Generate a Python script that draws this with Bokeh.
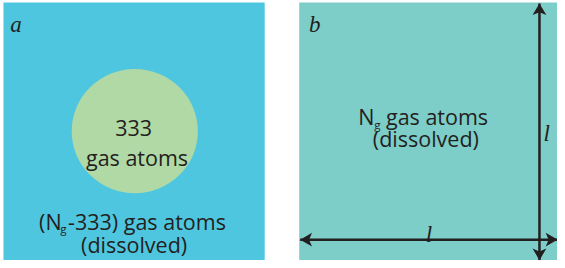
from bokeh.plotting import figure
from bokeh.models import Range1d
from bokeh.core.properties import value
from bokeh.embed import file_html
from bokeh.resources import INLINE

# ---- data (picture coordinates, y grows downwards) ----
panel_names = ["a", "b"]
panel_left = [3, 303]
panel_right = [268, 565]
panel_top = [2, 2]
panel_bottom = [268, 268]
panel_colors = ["#4EC6DF", "#7DCDC8"]

bubble_x = [136.2]
bubble_y = [134.7]
bubble_r = [64]
bubble_color = "#B1D9A6"

# arrows: (x0, y0, x1, y1) with heads at both ends
arrow_x0 = [304, 546.7]
arrow_y0 = [246.5, 3]
arrow_x1 = [565, 546.7]
arrow_y1 = [246.5, 267.7]

INK = "#231F20"
SANS = "Open Sans"
SERIF = "Liberation Serif"

W, H = 557, 260
p = figure(width=W, height=H, output_backend="svg", toolbar_location=None,
           x_range=Range1d(0, 565), y_range=Range1d(268, 0),
           min_border=0, outline_line_color=None, background_fill_color="white",
           border_fill_color="white")
p.axis.visible = False
p.grid.visible = False

# panels
p.quad(left=panel_left, right=panel_right, top=panel_top, bottom=panel_bottom,
       fill_color=panel_colors, line_color=None)

# bubble
p.ellipse(x=bubble_x, y=bubble_y, width=[2 * r for r in bubble_r],
          height=[2 * r for r in bubble_r], fill_color=bubble_color, line_color=None)

# arrows
L, HW, NOTCH = 12, 7, 3
p.segment(x0=arrow_x0, y0=arrow_y0, x1=arrow_x1, y1=arrow_y1, line_color=INK, line_width=2.5)
hx, hy = [], []
for x0, y0, x1, y1 in zip(arrow_x0, arrow_y0, arrow_x1, arrow_y1):
    dx, dy = x1 - x0, y1 - y0
    n = (dx * dx + dy * dy) ** 0.5
    ux, uy = dx / n, dy / n
    px, py = -uy, ux
    for tx, ty, s in ((x0, y0, 1), (x1, y1, -1)):
        bx, by = tx + s * ux * L, ty + s * uy * L
        nx, ny = tx + s * ux * (L - NOTCH), ty + s * uy * (L - NOTCH)
        hx.append([tx, bx + px * HW, nx, bx - px * HW])
        hy.append([ty, by + py * HW, ny, by - py * HW])
p.patches(xs=hx, ys=hy, fill_color=INK, line_color=None)

# panel letters
p.text(x=[10, 313], y=[24.3, 24.3], text=panel_names, text_font=value(SERIF),
       text_font_style="italic", text_font_size="23px", text_color=INK,
       text_align="left", text_baseline="alphabetic")

# length labels
p.text(x=[434.5, 554], y=[241.7, 136.7], text=["l", "l"], text_font=value(SERIF),
       text_font_style="italic", text_font_size="23px", text_color=INK,
       text_align="center", text_baseline="alphabetic")

def txt(x, y, s, align="center", size="21.5px"):
    p.text(x=[x], y=[y], text=[s], text_font=value(SANS), text_font_size=size,
           text_color=INK, text_align=align, text_baseline="alphabetic")

# panel a
txt(135, 131.7, "333")
txt(138.5, 161.7, "gas atoms")
txt(62, 228, "(N", align="right")
txt(60.5, 235.5, "g", align="left", size="11.5px")
txt(68.5, 228, "-333) gas atoms", align="left")
txt(135.5, 251.7, "(dissolved)")

# panel b
txt(363, 120, "N", align="left")
txt(379, 127.5, "g", align="left", size="11.5px")
txt(391, 120, "gas atoms", align="left")
txt(431.5, 142.5, "(dissolved)")

open("out.html", "w").write(file_html(p, INLINE))
